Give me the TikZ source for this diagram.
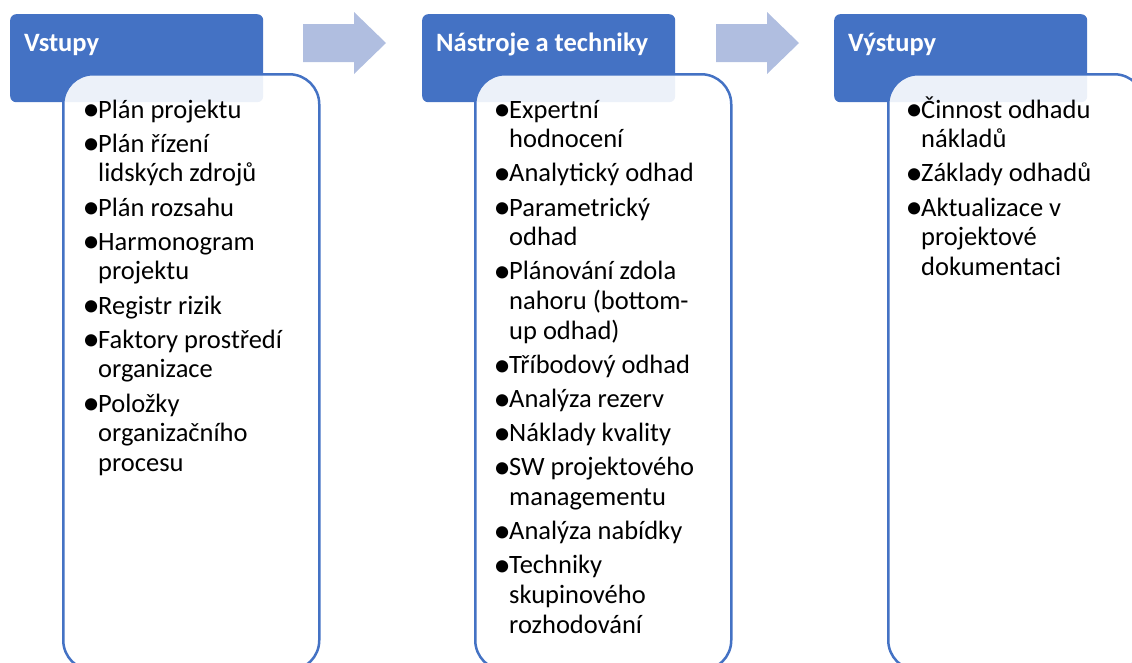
\documentclass[tikz,border=0pt]{standalone}
\usepackage{fontspec}
\usepackage{graphicx}
\setmainfont{Carlito}
\definecolor{accent}{HTML}{4472C4}
\definecolor{flowarrow}{HTML}{B0BEE0}
\newlength\bulw
\setlength\bulw{12pt}
% a slightly heavier bullet dot, centred 5pt into the bullet column
\newcommand\bdot{\hspace*{5pt}\makebox[0pt][c]{\raisebox{-2.4pt}{\scalebox{1.3}{•}}}}
% one bullet item with a hanging indent; lines inside an item are broken with \newline
\newcommand\bitem[1]{\par\hangindent=\bulw\hangafter=1\noindent\makebox[\bulw][l]{\bdot}#1}
\newcommand\itemlist[1]{\parbox[t]{260pt}{\raggedright\fontsize{26.5}{29.8}\selectfont\setlength\parskip{4.3pt}#1}}
\tikzset{
  header/.style={fill=accent, draw=none, rounded corners=6pt, anchor=north west,
    minimum width=253pt, minimum height=88pt, inner sep=0pt},
  headtext/.style={anchor=base west, inner sep=0pt, text=white,
    font=\fontsize{26.5}{30}\selectfont\bfseries},
  content/.style={draw=accent, line width=2.5pt, fill=white, fill opacity=0.9,
    rounded corners=30pt, anchor=north west, minimum width=256pt,
    minimum height=596pt, inner sep=0pt},
  bullets/.style={anchor=base west, inner sep=0pt, text=black},
  flow/.style={fill=flowarrow, draw=none}
}
\begin{document}
\begin{tikzpicture}[x=1pt, y=-1pt]
\useasboundingbox (0,0) rectangle (1132,662);
% flow arrows between the stages
\fill[flow] (303,24) -- (354,24) -- (354,12) -- (386,43) -- (354,74) -- (354,62) -- (303,62) -- cycle;
\fill[flow] (716,24) -- (767,24) -- (767,12) -- (799,43) -- (767,74) -- (767,62) -- (716,62) -- cycle;
% stage headers
\node[header] (h1) at (10,14) {};
\node[header] (h2) at (422,14) {};
\node[header] (h3) at (834,14) {};
\node[headtext] (ht1) at (24,51) {Vstupy};
\node[headtext] (ht2) at (436,51) {Nástroje a techniky};
\node[headtext] (ht3) at (848,51) {Výstupy};
% content panels
\node[content] (c1) at (62,73) {};
\node[content] (c2) at (474,73) {};
\node[content] (c3) at (887,73) {};
% item lists
\node[bullets] (t1) at (86,118) {\itemlist{%
  \bitem{Plán projektu}
  \bitem{Plán řízení\newline lidských zdrojů}
  \bitem{Plán rozsahu}
  \bitem{Harmonogram\newline projektu}
  \bitem{Registr rizik}
  \bitem{Faktory prostředí\newline organizace}
  \bitem{Položky\newline organizačního\newline procesu}}};
\node[bullets] (t2) at (497,118) {\itemlist{%
  \bitem{Expertní\newline hodnocení}
  \bitem{Analytický odhad}
  \bitem{Parametrický\newline odhad}
  \bitem{Plánování zdola\newline nahoru (bottom-\newline up odhad)}
  \bitem{Tříbodový odhad}
  \bitem{Analýza rezerv}
  \bitem{Náklady kvality}
  \bitem{SW projektového\newline managementu}
  \bitem{Analýza nabídky}
  \bitem{Techniky\newline skupinového\newline rozhodování}}};
\node[bullets] (t3) at (909,118) {\itemlist{%
  \bitem{Činnost odhadu\newline nákladů}
  \bitem{Základy odhadů}
  \bitem{Aktualizace v\newline projektové\newline dokumentaci}}};
\end{tikzpicture}
\end{document}
